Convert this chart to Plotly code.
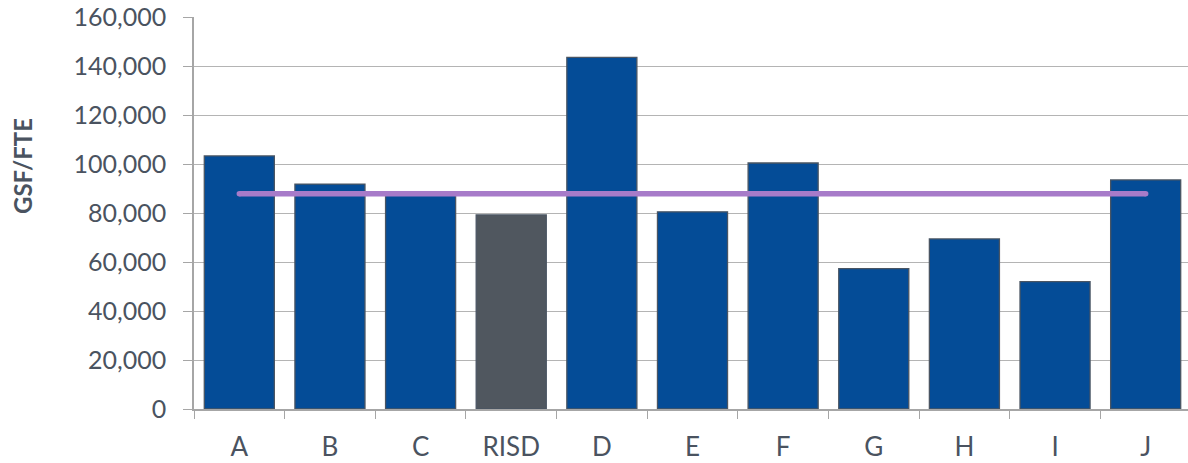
import plotly.graph_objects as go

# GSF per FTE for RISD and its peer institutions
institutions = ["A", "B", "C", "RISD", "D", "E", "F", "G", "H", "I", "J"]
gsf_per_fte = [103300, 91800, 87500, 79200, 143500, 80500, 100400, 57300, 69400, 52000, 93500]
peer_average = 87900
y_ticks = [0, 20000, 40000, 60000, 80000, 100000, 120000, 140000, 160000]

PEER_BLUE = "#044C97"
RISD_GREY = "#50575F"
AVG_PURPLE = "#A77BC9"
TEXT = "#4A5360"
GRID = "#B4B4B4"
FONT = "Lato, 'Open Sans', sans-serif"

bar_colors = [RISD_GREY if n == "RISD" else PEER_BLUE for n in institutions]

fig = go.Figure()
fig.add_trace(go.Bar(
    x=institutions,
    y=gsf_per_fte,
    marker=dict(color=bar_colors, line=dict(color="#4A5563", width=1.3)),
    hoverinfo="x+y",
    showlegend=False,
))
fig.add_trace(go.Scatter(
    x=[institutions[0], institutions[-1]],
    y=[peer_average, peer_average],
    mode="lines+markers",
    line=dict(color=AVG_PURPLE, width=5.5),
    marker=dict(color=AVG_PURPLE, size=5.5),
    showlegend=False,
))

fig.update_layout(
    width=1188,
    height=463,
    margin=dict(l=194, r=0, t=17, b=54),
    paper_bgcolor="white",
    plot_bgcolor="white",
    bargap=0.227,
    font=dict(family=FONT, size=26, color=TEXT),
    xaxis=dict(
        type="category",
        range=[-0.5, 10.467],
        tickson="boundaries",
        ticks="outside",
        ticklen=8,
        tickcolor="#A6A6A6",
        showline=True,
        linecolor="#A6A6A6",
        linewidth=1.5,
        showgrid=False,
        ticklabelstandoff=14,
        tickfont=dict(family=FONT, size=26, color=TEXT),
    ),
    yaxis=dict(
        range=[0, 160000],
        tickvals=y_ticks,
        tickformat=",d",
        ticks="outside",
        ticklen=9,
        tickcolor="#A6A6A6",
        showline=True,
        linecolor="#A6A6A6",
        linewidth=1.5,
        showgrid=True,
        gridcolor=GRID,
        gridwidth=1.3,
        zeroline=False,
        ticklabelstandoff=12,
        tickfont=dict(family=FONT, size=25, color=TEXT),
    ),
    annotations=[dict(
        text="<b>GSF/FTE</b>",
        xref="paper", yref="paper",
        x=-0.172, y=0.62,
        xanchor="center", yanchor="middle",
        textangle=-90,
        showarrow=False,
        font=dict(family=FONT, size=24, color=TEXT),
    )],
)

fig.write_html("out.html")
